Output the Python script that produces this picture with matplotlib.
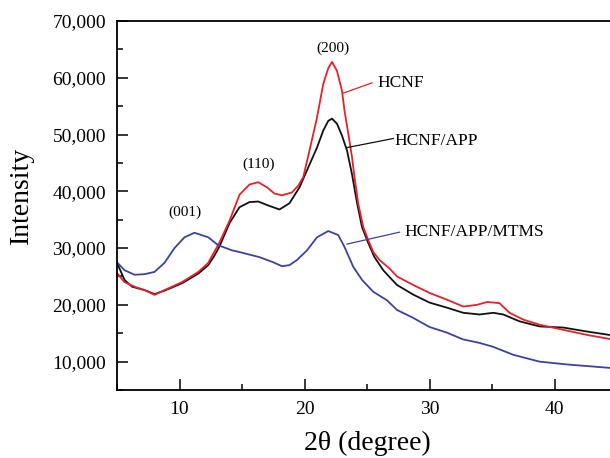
import matplotlib
matplotlib.use("Agg")
import matplotlib.pyplot as plt
from matplotlib.ticker import MultipleLocator, FuncFormatter

plt.rcParams['font.family'] = ['Liberation Serif', 'DejaVu Serif']

# 2theta (degree) and intensity
hcnf_x = [5.0, 5.6, 6.4, 7.2, 8.0, 8.8, 10.2, 11.5, 12.3, 13.2, 14.0, 14.8, 15.6, 16.3,
          17.0, 17.6, 18.2, 19.0, 19.5, 19.9, 20.4, 21.0, 21.5, 21.9, 22.2, 22.6, 23.0,
          23.2, 23.5, 23.8, 24.0, 24.3, 24.7, 25.1, 25.5, 26.0, 26.8, 27.4, 28.7, 30.0,
          31.4, 32.7, 33.8, 34.6, 35.6, 36.4, 37.5, 38.8, 40.7, 42.6, 44.4, 45.0]
hcnf_y = [25600, 24000, 23200, 22600, 21750, 22600, 24000, 25800, 27400, 31000, 34800,
          39400, 41200, 41600, 40700, 39600, 39300, 39800, 41000, 42500, 47200, 53000,
          58900, 61700, 62800, 61200, 57700, 54200, 50200, 46000, 42500, 37800, 33700,
          31400, 29300, 27900, 26400, 25000, 23500, 22100, 20900, 19700, 20000, 20500,
          20300, 18600, 17400, 16500, 15600, 14700, 14000, 13900]

app_x = [5.0, 5.6, 6.2, 7.2, 8.0, 8.8, 10.2, 11.5, 12.3, 12.8, 13.2, 14.0, 14.8, 15.6,
         16.3, 17.1, 18.0, 18.8, 19.6, 20.3, 21.0, 21.5, 21.9, 22.2, 22.6, 23.0, 23.4,
         23.8, 24.2, 24.6, 25.1, 25.6, 26.3, 26.8, 27.4, 28.7, 30.0, 31.4, 32.7, 34.0,
         35.1, 35.9, 37.2, 38.8, 40.7, 42.6, 44.4, 45.0]
app_y = [27400, 24400, 23200, 22600, 21900, 22500, 23800, 25500, 27000, 28700, 30300,
         34400, 37200, 38100, 38200, 37500, 36800, 37900, 40700, 44200, 47700, 50700,
         52400, 52800, 51900, 49800, 47200, 43000, 38000, 33700, 30900, 28400, 26100,
         24900, 23500, 21800, 20400, 19500, 18600, 18300, 18600, 18300, 17100, 16200,
         16000, 15300, 14700, 14500]

mtms_x = [5.0, 5.6, 6.4, 7.2, 8.0, 8.8, 9.6, 10.4, 11.2, 12.3, 13.1, 14.2, 14.8, 16.4,
          17.5, 18.2, 18.8, 19.4, 20.2, 21.0, 21.9, 22.7, 23.2, 23.9, 24.6, 25.5, 26.6,
          27.4, 28.7, 30.0, 31.4, 32.7, 34.0, 35.1, 36.7, 38.8, 41.0, 44.4, 45.0]
mtms_y = [27500, 26100, 25300, 25400, 25800, 27400, 30000, 31900, 32700, 31900, 30500,
          29600, 29300, 28400, 27500, 26800, 27000, 27900, 29600, 31900, 33000, 32300,
          30200, 26700, 24400, 22300, 20800, 19100, 17700, 16100, 15100, 13900, 13300,
          12600, 11200, 10000, 9500, 8900, 8800]

series_names = ['HCNF', 'HCNF/APP', 'HCNF/APP/MTMS']
x_ticks = [10, 20, 30, 40]
y_ticks = [10000, 20000, 30000, 40000, 50000, 60000, 70000]

red = '#e8202a'
blue = '#3a43a0'
black = '#111111'

fig = plt.figure(figsize=(6.1, 4.58), dpi=100)
ax = fig.add_axes([117/610, 68/458, 500/610, 369/458])

ax.plot(app_x, app_y, color=black, lw=1.3)
ax.plot(hcnf_x, hcnf_y, color=red, lw=1.3)
ax.plot(mtms_x, mtms_y, color=blue, lw=1.3)

ax.set_xlim(5, 45)
ax.set_ylim(5000, 70000)
ax.set_xticks(x_ticks)
ax.set_yticks(y_ticks)
ax.xaxis.set_minor_locator(MultipleLocator(5))
ax.yaxis.set_minor_locator(MultipleLocator(5000))
ax.yaxis.set_major_formatter(FuncFormatter(lambda v, p: f"{int(v):,}"))
ax.tick_params(which='major', direction='in', length=8, width=1.1, labelsize=14, pad=8)
ax.tick_params(which='minor', direction='in', length=4, width=1.1)
for s in ax.spines.values():
    s.set_linewidth(1.3)

ax.set_xlabel('2θ (degree)', fontsize=20)
ax.set_ylabel('Intensity', fontsize=20)
ax.xaxis.set_label_coords(0.5, -0.111)
ax.yaxis.set_label_coords(-0.166, 0.527)

ax.text(22.3, 65250, '(200)', fontsize=11, ha='center', va='center')
ax.text(16.3, 44700, '(110)', fontsize=11, ha='center', va='center')
ax.text(10.4, 36300, '(001)', fontsize=11, ha='center', va='center')

ax.plot([23.1, 25.4], [57300, 59100], color=red, lw=0.9)
ax.text(25.8, 59100, series_names[0], fontsize=12.5, ha='left', va='center')
ax.plot([23.4, 27.1], [47700, 49300], color=black, lw=0.9)
ax.text(27.2, 48900, series_names[1], fontsize=12.5, ha='left', va='center')
ax.plot([23.4, 27.6], [30700, 32800], color=blue, lw=0.9)
ax.text(28.0, 32800, series_names[2], fontsize=12.5, ha='left', va='center')

fig.savefig('out.png', dpi=100)
